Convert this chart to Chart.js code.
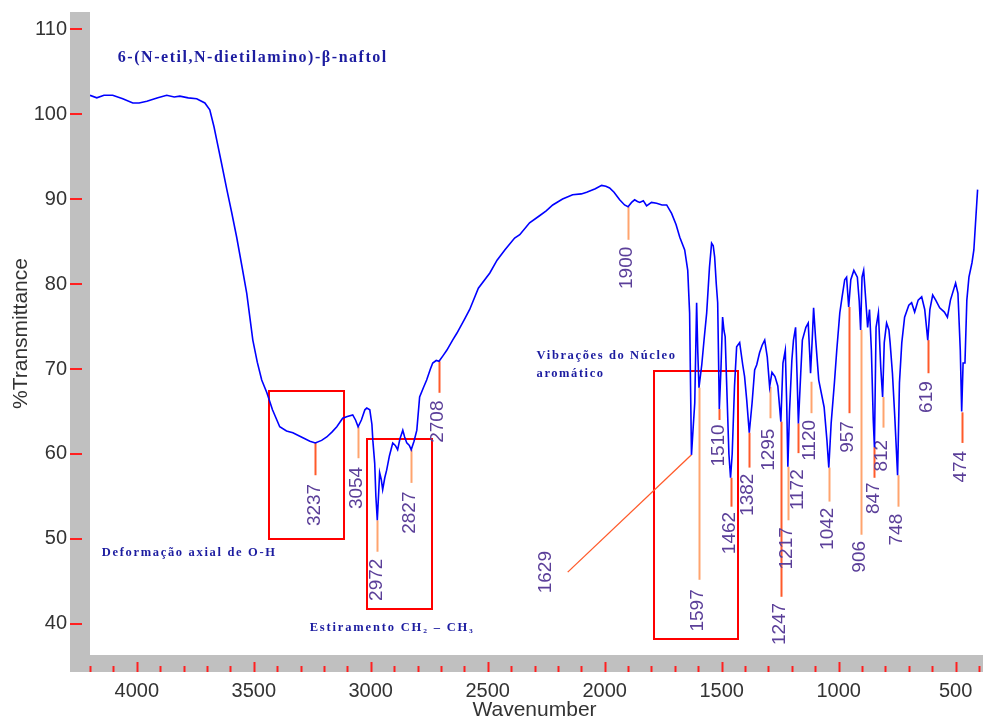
<!DOCTYPE html>
<html><head><meta charset="utf-8">
<script src="https://cdn.jsdelivr.net/npm/chart.js@4.4.0/dist/chart.umd.min.js"></script>
<style>html,body{margin:0;padding:0;background:#fff;overflow:hidden}canvas{display:block}</style>
</head><body>
<canvas id="c" width="983" height="723"></canvas>
<script>
// ---- DATA ----
const wavenumbers = [4200,4171,4140,4103,4060,4017,3990,3957,3910,3872,3840,3816,3780,3744,3709,3688,3670,3658,3640,3615,3595,3573,3550,3530,3504,3485,3466,3444,3420,3389,3360,3333,3290,3260,3237,3210,3188,3165,3145,3120,3100,3077,3065,3054,3040,3025,3017,3004,2995,2991,2983,2978,2972,2966,2962,2955,2949,2940,2932,2920,2906,2895,2885,2875,2863,2855,2846,2835,2827,2815,2803,2791,2775,2761,2745,2735,2720,2708,2690,2675,2650,2632,2600,2577,2540,2491,2460,2427,2385,2363,2321,2280,2250,2222,2180,2137,2100,2077,2040,2013,1995,1979,1960,1936,1915,1900,1885,1872,1860,1850,1835,1821,1800,1778,1755,1735,1714,1695,1679,1658,1645,1637,1633,1629,1622,1615,1607,1602,1597,1585,1575,1564,1552,1543,1536,1530,1523,1517,1510,1503,1496,1490,1485,1476,1469,1462,1455,1445,1436,1423,1410,1402,1393,1382,1370,1359,1350,1338,1327,1316,1305,1295,1285,1272,1260,1247,1238,1228,1222,1217,1210,1200,1193,1184,1178,1172,1162,1155,1140,1130,1124,1120,1112,1107,1098,1085,1062,1050,1042,1032,1018,1008,995,985,974,966,957,948,935,920,912,906,900,893,885,876,868,860,852,847,840,830,820,812,805,795,785,780,770,760,748,740,730,718,700,688,675,660,645,632,619,610,598,585,568,548,535,522,500,490,480,474,468,460,452,443,430,422,413,406];
const transmittance = [102.2,101.9,102.2,102.2,101.8,101.3,101.3,101.5,101.9,102.2,102.0,102.1,101.9,101.8,101.3,100.5,98.5,96.9,94.5,91.1,88.5,85.5,82.0,78.9,73.4,70.8,68.7,67.2,65.2,63.2,62.7,62.5,61.9,61.5,61.3,61.6,62.0,62.6,63.2,64.2,64.4,64.6,64.0,63.2,64.0,65.2,65.4,65.2,63.5,61.6,58.9,55.0,52.2,55.5,57.8,57.0,55.8,57.2,58.1,59.8,61.3,61.0,60.5,61.8,62.8,62.0,61.3,61.0,60.5,61.5,62.8,66.7,67.8,68.7,70.0,70.7,71.0,70.9,71.6,72.2,73.4,74.2,75.8,77.0,79.5,81.3,82.8,84.0,85.4,85.8,87.2,88.0,88.6,89.3,90.0,90.5,90.6,90.8,91.2,91.6,91.5,91.3,90.8,89.9,89.3,89.1,89.6,89.9,89.7,89.6,89.8,89.2,89.6,89.5,89.3,89.3,88.3,87.0,85.5,84.0,81.6,76.6,68.0,59.9,63.0,66.0,77.8,72.0,67.8,70.5,73.5,76.6,82.0,84.8,84.5,83.2,80.0,77.8,65.3,70.0,76.1,74.5,73.8,66.0,60.0,57.2,60.0,68.0,72.6,73.1,70.5,69.1,66.4,62.5,66.0,69.9,70.5,71.9,72.8,73.4,71.4,67.9,69.6,69.1,68.0,63.8,70.7,72.2,66.0,58.5,65.0,71.0,73.4,74.9,69.5,63.6,69.5,73.4,74.9,75.4,72.0,69.5,74.0,77.2,73.4,68.7,65.5,61.6,58.4,63.6,68.4,72.2,76.6,78.5,80.5,80.8,77.3,80.5,81.6,80.8,78.0,74.6,80.8,81.6,78.5,74.9,77.0,72.2,64.0,60.8,74.9,76.6,70.2,66.7,73.1,75.4,74.6,73.1,69.5,64.4,57.5,68.4,73.1,76.1,77.5,77.8,76.7,78.1,78.5,77.0,73.4,77.0,78.7,78.1,77.2,76.7,76.1,78.1,80.1,78.9,72.2,65.0,70.7,70.7,78.1,80.8,82.5,84.0,88.0,91.1];
const xTickValues = [4000,3500,3000,2500,2000,1500,1000,500];
const yTickValues = [40,50,60,70,80,90,100,110];
const peakWavenumbers = [3237,3054,2972,2827,2708,1900,1629,1597,1510,1462,1382,1295,1247,1217,1172,1120,1042,957,906,847,812,748,619,474];
const peakMinima = [61.4,63.2,52.2,60.5,70.9,89.1,59.9,67.8,65.3,57.2,62.5,67.9,63.8,58.5,63.6,68.5,58.4,77.3,74.6,60.8,66.7,57.5,73.4,64.9];
const titleText = '6-(N-etil,N-dietilamino)-\u03b2-naftol';
const bandNotes = ['Deforma\u00e7\u00e3o axial de O-H','Estiramento CH\u2082 \u2013 CH\u2083','Vibra\u00e7\u00f5es do N\u00facleo','arom\u00e1tico'];
const bandBoxes = [[3436,3115,67.4,50.0],[3017,2739,61.8,41.8],[1791,1432,69.8,38.2]];

// ---- LAYOUT (annotation placement, not data) ----
const peakLineEnd = [57.5,59.5,48.5,56.6,67.2,85.2,null,45.2,64.0,53.8,58.4,64.2,43.2,52.2,60.1,64.8,54.4,64.8,50.5,57.2,63.1,53.8,69.5,61.3];
const peakTextMid = [54.0,56.0,45.2,53.1,63.8,81.9,46.1,41.6,61.0,50.7,55.2,60.5,40.0,48.9,55.8,61.6,51.2,62.0,47.9,54.8,59.8,51.1,66.7,58.5];
const peakLineRed = [1,0,0,0,1,0,1,0,1,1,1,0,1,0,1,0,0,1,0,1,0,0,1,1];
const diag1629 = {toX:2158,toY:46.1,textX:2256};
const notePlacement = [[4150,48.4,175,12.5],[3261,39.5,165,12.5],[2291,71.6,140,12.5],[2291,69.4,68,12.5]];
const titlePlacement = [4081,106.6,270,16];

function fitText(ctx, text, x, y, width){
  ctx.letterSpacing='0px';
  const w = ctx.measureText(text).width;
  const n = [...text].length;
  const ls = Math.max(0,(width-w)/n);
  ctx.letterSpacing = ls.toFixed(2)+'px';
  ctx.fillText(text, x, y);
  ctx.letterSpacing='0px';
}

const framePlugin = {
  id:'frame',
  beforeDraw(chart){
    const {ctx, chartArea:a, width, height} = chart;
    const xs = chart.scales.x, ys = chart.scales.y;
    ctx.save();
    ctx.fillStyle='#fff'; ctx.fillRect(0,0,width,height);
    ctx.fillStyle='#c0c0c0';
    ctx.fillRect(a.left-20, a.top, 20, a.bottom+17-a.top);
    ctx.fillRect(a.left-20, a.bottom, width-(a.left-20), 17);
    ctx.strokeStyle='#ff2020'; ctx.lineWidth=2;
    ctx.beginPath();
    yTickValues.forEach(v=>{const p=Math.round(ys.getPixelForValue(v)); ctx.moveTo(a.left-20,p); ctx.lineTo(a.left-8,p);});
    for(let w=4200; w>=400; w-=100){
      const p=Math.round(xs.getPixelForValue(w))+0.5;
      const major = w%500===0;
      ctx.moveTo(p, a.bottom+(major?7:11)); ctx.lineTo(p, a.bottom+17);
    }
    ctx.stroke();
    ctx.restore();
  },
  beforeDatasetsDraw(chart){
    const {ctx} = chart;
    const xs = chart.scales.x, ys = chart.scales.y;
    const X = v=>xs.getPixelForValue(v), Y = v=>ys.getPixelForValue(v);
    ctx.save();
    ctx.strokeStyle='#ff0000'; ctx.lineWidth=2;
    bandBoxes.forEach(b=>{
      const x1=Math.round(X(b[0])), x2=Math.round(X(b[1])), y1=Math.round(Y(b[2])), y2=Math.round(Y(b[3]));
      ctx.strokeRect(x1,y1,x2-x1,y2-y1);
    });
    peakWavenumbers.forEach((w,i)=>{
      ctx.strokeStyle = peakLineRed[i] ? '#ff5a2a' : '#ffa46e';
      ctx.beginPath();
      if(w===1629){
        ctx.lineWidth=1.3;
        ctx.moveTo(X(w),Y(peakMinima[i])); ctx.lineTo(X(diag1629.toX),Y(diag1629.toY));
      } else {
        ctx.lineWidth=2;
        const px=Math.round(X(w))+0.5;
        ctx.moveTo(px,Y(peakMinima[i])); ctx.lineTo(px,Y(peakLineEnd[i]));
      }
      ctx.stroke();
    });
    ctx.fillStyle='#5b3f99';
    ctx.font='19px "Liberation Sans", Arial, sans-serif';
    ctx.textAlign='center'; ctx.textBaseline='middle';
    peakWavenumbers.forEach((w,i)=>{
      const px = (w===1629) ? X(diag1629.textX) : X(w)-2;
      ctx.save();
      ctx.translate(px, Y(peakTextMid[i]));
      ctx.rotate(-Math.PI/2);
      ctx.fillText(String(w),0,1);
      ctx.restore();
    });
    ctx.fillStyle='#1c1ca0';
    ctx.textAlign='left';
    ctx.font='bold '+titlePlacement[3]+'px "Liberation Serif", "Times New Roman", serif';
    fitText(ctx, titleText, X(titlePlacement[0]), Y(titlePlacement[1]), titlePlacement[2]);
    bandNotes.forEach((t,i)=>{
      const p=notePlacement[i];
      ctx.font='bold '+p[3]+'px "Liberation Serif", "Times New Roman", serif';
      fitText(ctx, t, X(p[0]), Y(p[1]), p[2]);
    });
    ctx.restore();
  }
};

function zeroPad(s){ s.paddingLeft=0; s.paddingRight=0; s.paddingTop=0; s.paddingBottom=0; }

new Chart(document.getElementById('c'), {
  type:'line',
  data:{ datasets:[{
    data: wavenumbers.map((w,i)=>({x:w,y:transmittance[i]})),
    borderColor:'#0000ff', borderWidth:1.6, pointRadius:0, tension:0, fill:false
  }]},
  options:{
    responsive:false, animation:false, devicePixelRatio:1,
    layout:{padding:{left:0,right:4,top:12,bottom:0}},
    plugins:{legend:{display:false}, tooltip:{enabled:false}},
    scales:{
      x:{ type:'linear', reverse:true, min:400, max:4200, position:'bottom',
        afterFit(s){ s.height=68; zeroPad(s); },
        afterBuildTicks(s){ s.ticks = xTickValues.map(v=>({value:v})); },
        grid:{display:false, drawTicks:false},
        border:{display:false},
        ticks:{ padding:24, color:'#333', font:{family:'"Liberation Sans", Arial, sans-serif', size:20}, autoSkip:false, maxRotation:0,
          callback:v=>String(v) },
        title:{display:true, text:'Wavenumber', color:'#333', font:{family:'"Liberation Sans", Arial, sans-serif', size:21}, padding:{top:0,bottom:0}}
      },
      y:{ type:'linear', min:36.35, max:112,
        afterFit(s){ s.width=90; zeroPad(s); },
        afterBuildTicks(s){ s.ticks = yTickValues.map(v=>({value:v})); },
        grid:{display:false, drawTicks:false},
        border:{display:false},
        ticks:{ padding:23, color:'#333', font:{family:'"Liberation Sans", Arial, sans-serif', size:20}, autoSkip:false,
          callback:v=>String(v) },
        title:{display:true, text:'%Transmittance', color:'#333', font:{family:'"Liberation Sans", Arial, sans-serif', size:21}, padding:{top:9,bottom:0}}
      }
    }
  },
  plugins:[framePlugin]
});
</script>
</body></html>
